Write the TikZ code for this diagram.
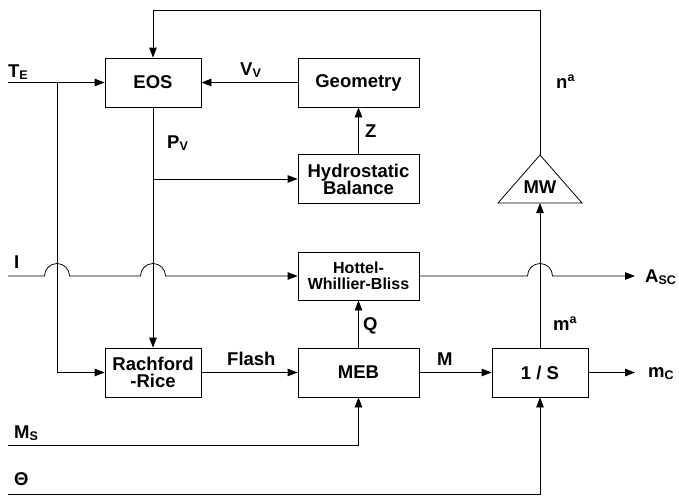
\documentclass[tikz,border=0pt]{standalone}
\usepackage{fontspec}
\setmainfont{Liberation Sans}
\usetikzlibrary{arrows.meta}
\begin{document}
\begin{tikzpicture}[x=1pt,y=-1pt,
  every node/.style={font=\fontsize{18.5}{20}\selectfont\bfseries},
  blk/.style={draw,line width=0.8pt,inner sep=0pt,minimum height=49pt,align=center},
  lbl/.style={anchor=base west,inner sep=0pt},
  ln/.style={line width=0.8pt},
  arr/.style={line width=0.8pt,-{Triangle[length=10pt,width=7.5pt]}}]
\useasboundingbox (0,0) rectangle (679,498);
% boxes
\node[blk,minimum width=96pt] (eos) at (153,82.5) {EOS};
\node[blk,minimum width=121pt] (geo) at (358.5,82.5) {Geometry};
\node[blk,minimum width=121pt,font=\fontsize{18.5}{19}\selectfont\bfseries] (hyd) at (358.5,179) {Hydrostatic\\[-2pt]Balance};
\node[blk,minimum width=121pt,minimum height=48pt,font=\fontsize{16}{17}\selectfont\bfseries] (hwb) at (358.5,276) {Hottel-\\[-1pt]Whillier-Bliss};
\node[blk,minimum width=96pt,font=\fontsize{18.5}{19}\selectfont\bfseries] (rr) at (153,372.5) {Rachford\\[-2pt]-Rice};
\node[blk,minimum width=121pt] (meb) at (358.5,372.5) {MEB};
\node[blk,minimum width=96pt] (s) at (540,372.5) {1 / S};
% MW triangle
\coordinate (mwapex) at (540,155);
\coordinate (mwbase) at (540,203);
\coordinate (mwr) at (582,203);
\coordinate (mwl) at (498,203);
\draw[ln] (mwapex) -- (mwr) -- (mwl) -- cycle;
\node (mw) at (540,187) {MW};
% coordinates
\coordinate (te0) at (8,82.5);
\coordinate (tej) at (57,82.5);
\coordinate (teb) at (57,372.5);
\coordinate (pvj) at (153,179);
\coordinate (i0) at (8,276);
\coordinate (ms0) at (8,445);
\coordinate (msc) at (358.5,445);
\coordinate (th0) at (8,494);
\coordinate (thc) at (540,494);
\coordinate (top1) at (540,10);
\coordinate (top2) at (153,10);
\coordinate (asc) at (635,276);
\coordinate (mc) at (635,372.5);
% connectors
\draw[arr] (te0) -- (eos.west);
\draw[arr] (tej) -- (teb) -- (rr.west);
\draw[arr] (geo.west) -- (eos.east);
\draw[arr] (eos.south) -- (rr.north);
\draw[arr] (pvj) -- (hyd.west);
\draw[arr] (hyd.north) -- (geo.south);
\draw[arr] (i0) -- (44.5,276) arc[start angle=180,end angle=360,radius=12.5] -- (140.5,276) arc[start angle=180,end angle=360,radius=12.5] -- (hwb.west);
\draw[arr] (hwb.east) -- (527.5,276) arc[start angle=180,end angle=360,radius=12.5] -- (asc);
\draw[arr] (meb.north) -- (hwb.south);
\draw[arr] (rr.east) -- (meb.west);
\draw[arr] (meb.east) -- (s.west);
\draw[arr] (s.east) -- (mc);
\draw[arr] (s.north) -- (mwbase);
\draw[arr] (mwapex) -- (top1) -- (top2) -- (eos.north);
\draw[arr] (ms0) -- (msc) -- (meb.south);
\draw[arr] (th0) -- (thc) -- (s.south);
% labels
\node[lbl] (lte) at (8,77) {T\textsubscript{\fontsize{12.5}{12}\selectfont E}};
\node[lbl] (lvv) at (240,75) {V\textsubscript{\fontsize{12.5}{12}\selectfont V}};
\node[lbl] (lpv) at (167,148) {P\textsubscript{\fontsize{12.5}{12}\selectfont V}};
\node[lbl] (lz) at (365,137) {Z};
\node[lbl] (lna) at (556,88) {n\textsuperscript{\fontsize{12.5}{12}\selectfont a}};
\node[lbl] (li) at (14,268) {I};
\node[lbl] (lfl) at (227,365) {Flash};
\node[lbl] (lm) at (437,365) {M};
\node[lbl] (lq) at (363,330) {Q};
\node[lbl] (lma) at (553,330) {m\textsuperscript{\fontsize{12.5}{12}\selectfont a}};
\node[lbl] (lasc) at (645,282) {A\textsubscript{\fontsize{12.5}{12}\selectfont SC}};
\node[lbl] (lmc) at (648,377) {m\textsubscript{\fontsize{12.5}{12}\selectfont C}};
\node[lbl] (lms) at (14,438) {M\textsubscript{\fontsize{12.5}{12}\selectfont S}};
\node[lbl] (lth) at (14,485) {Θ};
\end{tikzpicture}
\end{document}
